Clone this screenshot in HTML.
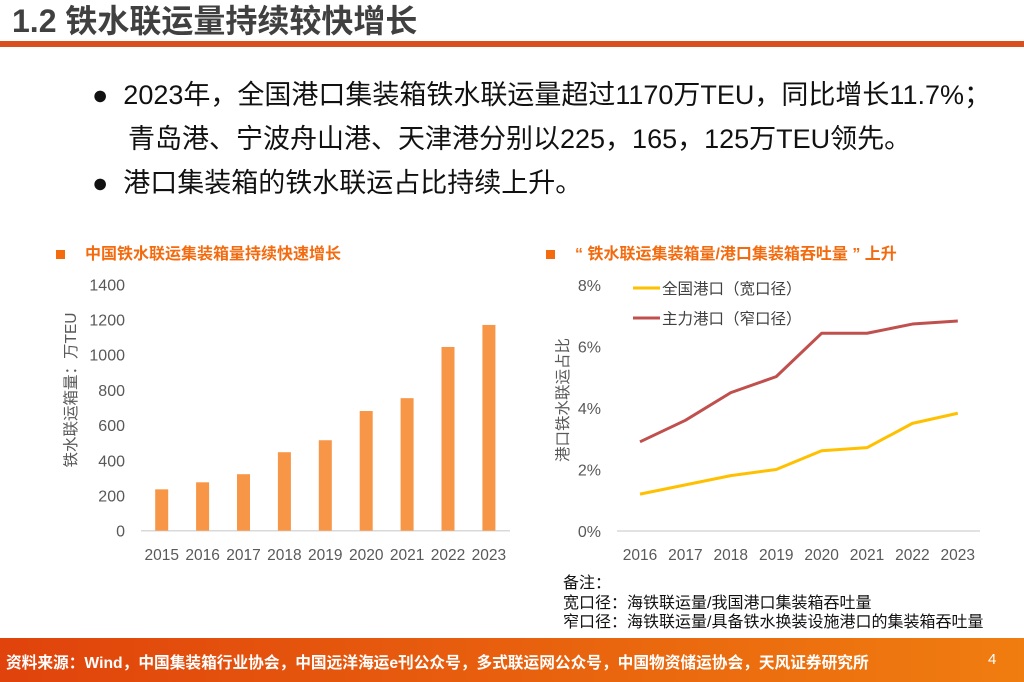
<!DOCTYPE html>
<html><head><meta charset="utf-8"><style>
body{margin:0;width:1024px;height:682px;overflow:hidden;background:#fff;font-family:"Liberation Sans","Noto Sans CJK SC",sans-serif;position:relative}
.abs{position:absolute;white-space:nowrap}
</style></head><body>
<div class="abs" style="left:12px;top:1px;font-size:32px;color:#404040;line-height:40px;font-weight:bold">1.2 铁水联运量持续较快增长</div>
<div class="abs" style="left:0;top:41px;width:1024px;height:6px;background:#d9501e"></div>
<div class="abs" style="left:92px;top:73px;font-size:27px;color:#111;line-height:44px">
<div>●&nbsp; 2023年，全国港口集装箱铁水联运量超过1170万TEU，同比增长11.7%；</div>
<div style="padding-left:36px">青岛港、宁波舟山港、天津港分别以225，165，125万TEU领先。</div>
<div>●&nbsp; 港口集装箱的铁水联运占比持续上升。</div>
</div>
<div class="abs" style="left:56px;top:240px;font-size:16px;color:#f46b0f;font-weight:bold"><span style="display:inline-block;width:9px;height:9px;background:#f46b0f;margin-right:20px"></span>中国铁水联运集装箱量持续快速增长</div>
<div class="abs" style="left:546px;top:240px;font-size:16px;color:#f46b0f;font-weight:bold"><span style="display:inline-block;width:9px;height:9px;background:#f46b0f;margin-right:20px"></span>“ 铁水联运集装箱量/港口集装箱吞吐量 ” 上升</div>
<svg class="abs" style="left:0;top:0" width="1024" height="682">
<g id="bar"></g>
<g id="line"></g>
</svg>
<div class="abs" style="left:563px;top:574px;font-size:16px;color:#111;line-height:19.5px">备注：<br>宽口径：海铁联运量/我国港口集装箱吞吐量<br>窄口径：海铁联运量/具备铁水换装设施港口的集装箱吞吐量</div>
<div class="abs" style="left:0;top:638px;width:1024px;height:44px;background:linear-gradient(90deg,#e0430c,#f07d10)"></div>
<div class="abs" style="left:6px;top:650px;font-size:15.7px;color:#fff;font-weight:bold">资料来源：Wind，中国集装箱行业协会，中国远洋海运e刊公众号，多式联运网公众号，中国物资储运协会，天风证券研究所</div>
<div class="abs" style="left:988px;top:651px;font-size:15px;color:#fff">4</div>
<script>
const NS='http://www.w3.org/2000/svg';
function mk(p,t,a,txt){const e=document.createElementNS(NS,t);for(const k in a)e.setAttribute(k,a[k]);if(txt!==undefined)e.textContent=txt;p.appendChild(e);return e;}
const barYears=['2015','2016','2017','2018','2019','2020','2021','2022','2023'];
const barValues=[235,275,321,446,514,680,753,1044,1169];
const barTicks=[0,200,400,600,800,1000,1200,1400];
const lineYears=['2016','2017','2018','2019','2020','2021','2022','2023'];
const wideValues=[1.2,1.5,1.8,2.0,2.61,2.71,3.5,3.83];
const narrowValues=[2.9,3.6,4.5,5.02,6.43,6.43,6.73,6.83];
const lineTicks=[0,2,4,6,8];
const bg=document.getElementById('bar');
const by=v=>530.7-v*(530.7-284.3)/1400, bx=i=>161.7+i*40.9;
barTicks.forEach(t=>{const e=mk(bg,'text',{x:125,y:by(t)+6,'text-anchor':'end','font-size':16,fill:'#595959'},t);
});
const ba=mk(bg,'line',{x1:141,x2:510,y1:530.7,y2:530.7,stroke:'#d9d9d9','stroke-width':1.5});

barValues.forEach((v,i)=>{const r=mk(bg,'rect',{x:bx(i)-6.5,y:by(v),width:13,height:530.7-by(v),fill:'#f79646'});

const t=mk(bg,'text',{x:bx(i),y:560,'text-anchor':'middle','font-size':15.5,fill:'#595959'},barYears[i]);
});
const bt=mk(bg,'text',{transform:'translate(76,390) rotate(-90)','text-anchor':'middle','font-size':15.5,fill:'#595959'},'铁水联运箱量：万TEU');

const lg=document.getElementById('line');
const ly=v=>531-v*(531-285)/8, lx=i=>640+i*45.4;
lineTicks.forEach(t=>{const e=mk(lg,'text',{x:601,y:ly(t)+6,'text-anchor':'end','font-size':16,fill:'#595959'},t+'%');
});
const la=mk(lg,'line',{x1:617,x2:980,y1:531,y2:531,stroke:'#d9d9d9','stroke-width':1.5});

lineYears.forEach((y,i)=>{const t=mk(lg,'text',{x:lx(i),y:560,'text-anchor':'middle','font-size':15.5,fill:'#595959'},y);
});
[[wideValues,'#ffc000','wide-series'],[narrowValues,'#c0504d','narrow-series']].forEach(([vals,c,n])=>{
const p=mk(lg,'polyline',{points:vals.map((v,i)=>lx(i)+','+ly(v)).join(' '),fill:'none',stroke:c,'stroke-width':3,'stroke-linejoin':'round'});
});
const lt=mk(lg,'text',{transform:'translate(568,400) rotate(-90)','text-anchor':'middle','font-size':15.5,fill:'#595959'},'港口铁水联运占比');

[['#ffc000','全国港口（宽口径）',288],['#c0504d','主力港口（窄口径）',318]].forEach(([c,l,y])=>{
const g=mk(lg,'g',{});
mk(g,'line',{x1:633,x2:660,y1:y,y2:y,stroke:c,'stroke-width':3});
mk(g,'text',{x:662,y:y+6,'font-size':15.5,fill:'#404040'},l);});
</script>
</body></html>
